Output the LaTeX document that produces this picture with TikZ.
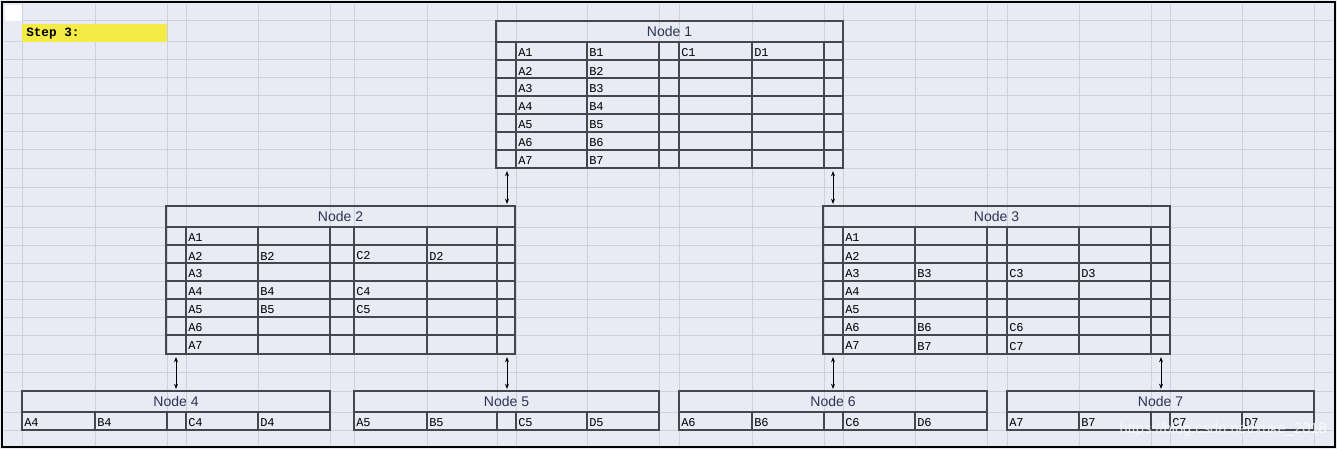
\documentclass[tikz,border=0pt]{standalone}
\usepackage{fontspec}
\setmainfont{Liberation Sans}
\newfontfamily\cellfont{Liberation Mono}
\usetikzlibrary{arrows.meta}
\definecolor{bg}{HTML}{E8EAF4}
\definecolor{gridc}{HTML}{CCD1E0}
\definecolor{tline}{HTML}{45464F}
\definecolor{ttext}{HTML}{2A3550}
\begin{document}
\begin{tikzpicture}[x=0.75pt,y=-0.75pt,
  tout/.style={draw=tline,line width=1.6pt},
  tin/.style={draw=tline,line width=0.9pt},
  title/.style={font=\fontsize{10.5}{12}\selectfont,text=ttext,inner sep=0pt},
  cell/.style={font=\cellfont\fontsize{9}{10}\selectfont,anchor=west,inner sep=0pt,yshift=-1.5pt},
  link/.style={line width=0.7pt,{Stealth[length=4pt,width=3pt]}-{Stealth[length=4pt,width=3pt]}}]
\useasboundingbox (0,0) rectangle (1337,449);
\fill[bg] (0,0) rectangle (1337,449);
\foreach \x in {22,95,167,186,258,330,354,427,497,516,587,659,679,752,824,843,915,987,1007,1079,1151,1170,1242,1314}
  \draw[gridc,line width=0.75pt] (\x,4) -- (\x,446);
\foreach \y in {21,42,60,78,96,114,132,150,168,187,206,227,245,263,281,299,317,335,354,372,391,412,430}
  \draw[gridc,line width=0.75pt] (4,\y) -- (1333,\y);
\fill[white] (5,5) rectangle (22,21);
% Step label
\fill[yellow!75!white!95!black] (22,24) rectangle (167,42);
\node[font=\cellfont\bfseries\fontsize{9.5}{10}\selectfont,anchor=west,inner sep=0pt] (step) at (26,34) {Step 3:};
% Node 1
\draw[tout] (496,21) rectangle (843,168);
\draw[tout] (496,42) -- (843,42);
\foreach \x in {516,587,659,679,752,824} \draw[tin] (\x,42) -- (\x,168);
\foreach \y in {60,78,96,114,132,150} \draw[tin] (496,\y) -- (843,\y);
\node[title] (n1) at (669.5,31.5) {Node 1};
\foreach \i [evaluate=\i as \yy using 33+18*\i] in {1,...,7} {
  \node[cell] at (518,\yy) {A\i};
  \node[cell] at (589,\yy) {B\i};
}
\node[cell] at (681,51) {C1};
\node[cell] at (754,51) {D1};
% Node 2
\draw[tout] (166,206) rectangle (515,354);
\draw[tout] (166,227) -- (515,227);
\foreach \x in {186,258,330,354,427,497} \draw[tin] (\x,227) -- (\x,354);
\foreach \y in {245,263,281,299,317,335} \draw[tin] (166,\y) -- (515,\y);
\node[title] (n2) at (340.5,216.5) {Node 2};
\foreach \i [evaluate=\i as \yy using 218+18*\i] in {1,...,7} \node[cell] at (188,\yy) {A\i};
\node[cell] at (260,254) {B2}; \node[cell] at (356,254) {C2}; \node[cell] at (429,254) {D2};
\node[cell] at (260,290) {B4}; \node[cell] at (356,290) {C4};
\node[cell] at (260,308) {B5}; \node[cell] at (356,308) {C5};
% Node 3
\draw[tout] (823,206) rectangle (1170,354);
\draw[tout] (823,227) -- (1170,227);
\foreach \x in {843,915,987,1007,1079,1151} \draw[tin] (\x,227) -- (\x,354);
\foreach \y in {245,263,281,299,317,335} \draw[tin] (823,\y) -- (1170,\y);
\node[title] (n3) at (996.5,216.5) {Node 3};
\foreach \i [evaluate=\i as \yy using 218+18*\i] in {1,...,7} \node[cell] at (845,\yy) {A\i};
\node[cell] at (917,272) {B3}; \node[cell] at (1009,272) {C3}; \node[cell] at (1081,272) {D3};
\node[cell] at (917,326) {B6}; \node[cell] at (1009,326) {C6};
\node[cell] at (917,345) {B7}; \node[cell] at (1009,345) {C7};
% bottom nodes
\foreach \l/\r/\a/\b/\c/\d/\n in {22/330/95/167/186/258/4, 354/659/427/497/516/587/5, 679/987/752/824/843/915/6, 1007/1314/1079/1151/1170/1242/7} {
  \draw[tout] (\l,391) rectangle (\r,430);
  \draw[tout] (\l,412) -- (\r,412);
  \foreach \x in {\a,\b,\c,\d} \draw[tin] (\x,412) -- (\x,430);
  \node[title] (n\n) at ({(\l+\r)/2},401.5) {Node \n};
  \node[cell] at (\l+2,421) {A\n};
  \node[cell] at (\a+2,421) {B\n};
  \node[cell] at (\c+2,421) {C\n};
  \node[cell] at (\d+2,421) {D\n};
}
% connectors
\coordinate (a1) at (507,171); \coordinate (a2) at (507,204);
\coordinate (b1) at (833,171); \coordinate (b2) at (833,204);
\coordinate (c1) at (176,357); \coordinate (c2) at (176,389);
\coordinate (d1) at (507,357); \coordinate (d2) at (507,389);
\coordinate (e1) at (833,357); \coordinate (e2) at (833,389);
\coordinate (f1) at (1161,357); \coordinate (f2) at (1161,389);
\foreach \p in {a,b,c,d,e,f} \draw[link] (\p1) -- (\p2);
% watermark
\node[font=\fontsize{11}{12}\selectfont,text=white,opacity=0.8,anchor=east,inner sep=0pt] (wm) at (1327,430) {https://blog.csdn.net/xuke\_2018};
% frame
\draw[black,line width=1.8pt] (2,2) rectangle (1335,447);
\end{tikzpicture}
\end{document}
